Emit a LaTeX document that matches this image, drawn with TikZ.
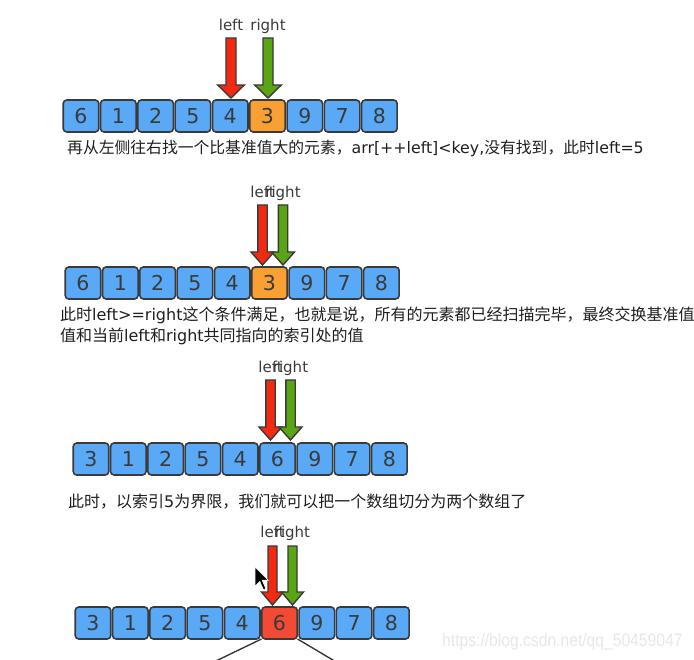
\documentclass[tikz,border=0pt]{standalone}
\usepackage{fontspec}
\usepackage{graphicx}
\newfontfamily\cjk{Noto Sans CJK SC}
\newfontfamily\lat{DejaVu Sans}
\newfontfamily\wmfont{Liberation Sans}
\definecolor{boxblue}{HTML}{5AA9F6}
\definecolor{boxorange}{HTML}{F8A033}
\definecolor{boxred}{HTML}{F24A35}
\definecolor{arrred}{HTML}{F22A12}
\definecolor{arrgreen}{HTML}{5AA513}
\definecolor{edge}{HTML}{3A3A3A}
\tikzset{
  cell/.style={draw=edge, line width=1.6pt, rounded corners=3.5pt, minimum width=35.5pt,
    minimum height=32pt, inner sep=0pt, font=\lat\fontsize{20.5}{20.5}\selectfont, text=edge},
  ptrlabel/.style={anchor=base, inner sep=0pt, text=edge, font=\lat\fontsize{15}{15}\selectfont},
  caption/.style={anchor=west, inner sep=0pt, text=black!88, font=\cjk\fontsize{16}{16}\selectfont},
  ptrshape/.style={draw=edge, line width=1.4pt, line join=miter},
  split/.style={draw=edge, line width=1.4pt},
  cursorshape/.style={fill=black, draw=white, line width=0.6pt, line join=miter}
}
% x, top, tip, colour, head half width, shaft half width
\newcommand\drawptr[6]{%
  \draw[ptrshape, fill=#4] ({#1-#6},#2) -- ({#1+#6},#2) -- ({#1+#6},{#3-13}) -- ({#1+#5},{#3-13})
    -- (#1,#3) -- ({#1-#5},{#3-13}) -- ({#1-#6},{#3-13}) -- cycle;}
\begin{document}
\begin{tikzpicture}[x=1pt, y=-1pt]
  \clip (0,0) rectangle (694,660);
  \fill[white] (0,0) rectangle (694,660);

  % ---------- row 1 ----------
  \node[ptrlabel] (l1) at (231,31) {left};
  \node[ptrlabel] (r1) at (268,31) {right};
  \drawptr{231}{38}{98}{arrred}{13.3}{5}
  \drawptr{268}{38}{98}{arrgreen}{13.3}{5}
  \foreach \v/\c [count=\i from 0] in {6/boxblue,1/boxblue,2/boxblue,5/boxblue,4/boxblue,3/boxorange,9/boxblue,7/boxblue,8/boxblue}
    \node[cell, fill=\c] (a\i) at ({81+37.3*\i},116) {\v};
  \node[caption, font=\cjk\fontsize{15.8}{15.8}\selectfont] (t1) at (67,148)
    {再从左侧往右找一个比基准值大的元素，{\lat arr[++left]<key,}没有找到，此时{\lat left=5}};

  % ---------- row 2 ----------
  \node[ptrlabel] (l2) at (262.5,198) {left};
  \node[ptrlabel] (r2) at (283,198) {right};
  \drawptr{262.5}{205}{265}{arrred}{11.5}{4.7}
  \drawptr{283}{205}{265}{arrgreen}{11.5}{4.7}
  \foreach \v/\c [count=\i from 0] in {6/boxblue,1/boxblue,2/boxblue,5/boxblue,4/boxblue,3/boxorange,9/boxblue,7/boxblue,8/boxblue}
    \node[cell, fill=\c] (b\i) at ({83+37.3*\i},283) {\v};
  \node[caption] (t2a) at (60,315)
    {此时{\lat left>=right}这个条件满足，也就是说，所有的元素都已经扫描完毕，最终交换基准值};
  \node[caption] (t2b) at (60,336)
    {值和当前{\lat left}和{\lat right}共同指向的索引处的值};

  % ---------- row 3 ----------
  \node[ptrlabel] (l3) at (270.5,372.5) {left};
  \node[ptrlabel] (r3) at (290.5,372.5) {right};
  \drawptr{270.5}{380}{440}{arrred}{11.5}{4.7}
  \drawptr{290.5}{380}{440}{arrgreen}{11.5}{4.7}
  \foreach \v [count=\i from 0] in {3,1,2,5,4,6,9,7,8}
    \node[cell, fill=boxblue] (c\i) at ({91+37.3*\i},459) {\v};
  \node[caption] (t3) at (68,502)
    {此时，以索引{\lat 5}为界限，我们就可以把一个数组切分为两个数组了};

  % ---------- row 4 ----------
  \node[ptrlabel] (l4) at (272.5,537) {left};
  \node[ptrlabel] (r4) at (292.5,537) {right};
  \drawptr{272.5}{546}{605}{arrred}{11}{4.5}
  \drawptr{292.5}{546}{605}{arrgreen}{11}{4.5}
  \coordinate (sl) at (176.5,680);
  \coordinate (sr) at (366.5,680);
  \draw[split] ({261.5},639) -- (sl);
  \draw[split] ({297.5},639) -- (sr);
  \foreach \v/\c [count=\i from 0] in {3/boxblue,1/boxblue,2/boxblue,5/boxblue,4/boxblue,6/boxred,9/boxblue,7/boxblue,8/boxblue}
    \node[cell, fill=\c] (d\i) at ({93+37.3*\i},623) {\v};

  % mouse cursor
  \draw[cursorshape, shift={(255,567)}] (0,0) -- (0,19.2) -- (4.8,14.4) -- (8.4,22.8)
    -- (10.8,21.6) -- (7.2,13.2) -- (13.2,13.2) -- cycle;

  % watermark
  \node[anchor=west, inner sep=0pt, text=black!9] (wm) at (442,642)
    {\scalebox{0.87}[1]{\wmfont\fontsize{18}{18}\selectfont https://blog.csdn.net/qq\_50459047}};
\end{tikzpicture}
\end{document}
